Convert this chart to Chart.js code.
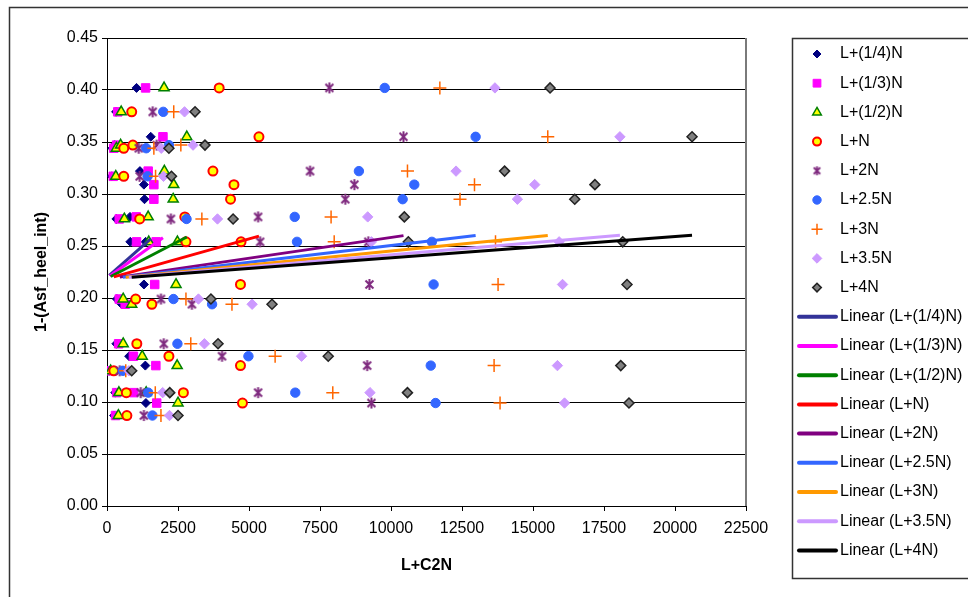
<!DOCTYPE html>
<html>
<head>
<meta charset="utf-8">
<script src="https://cdn.jsdelivr.net/npm/chart.js"></script>
<style>
  html, body { margin: 0; padding: 0; background: #fff; overflow: hidden; }
  #wrap { position: relative; width: 968px; height: 597px; }
</style>
</head>
<body>
<div id="wrap"><canvas id="chart" width="968" height="597"></canvas></div>
<script>
// one y level per measured row, shared by every series
var yValues = [0.402, 0.379, 0.355, 0.344, 0.347, 0.322, 0.317, 0.309, 0.295, 0.278, 0.276, 0.254,
               0.254, 0.213, 0.199, 0.194, 0.156, 0.144, 0.135, 0.130, 0.109, 0.109, 0.099, 0.087];

// L+C2N for each series, same row order as yValues
var xQuarterN = [1040, 320, 1540, 190, 270, 1160, 170, 1300, 1320, 810, 330, 820,
                 1360, 1300, 350, 520, 330, 780, 1350, 80, 290, 720, 1370, 250];
var xThirdN   = [1360, 380, 1970, 240, 340, 1450, 220, 1650, 1650, 1030, 430, 1040,
                 1730, 1680, 430, 640, 410, 930, 1720, 100, 340, 940, 1750, 300];
var xHalfN    = [2010, 500, 2810, 330, 480, 2020, 310, 2350, 2330, 1450, 610, 1470,
                 2480, 2430, 570, 870, 570, 1240, 2470, 130, 420, 1380, 2500, 400];
var xN        = [3950, 870, 5350, 590, 910, 3730, 590, 4470, 4350, 2740, 1150, 2780,
                 4720, 4700, 1010, 1580, 1050, 2180, 4700, 240, 680, 2690, 4770, 700];
var x2N       = [7830, 1610, 10440, 1120, 1750, 7150, 1150, 8710, 8390, 5320, 2250, 5390,
                 9200, 9240, 1900, 2990, 2000, 4050, 9160, 450, 1190, 5320, 9310, 1300];
var x25N      = [9780, 1980, 12980, 1380, 2180, 8870, 1430, 10820, 10410, 6610, 2800, 6690,
                 11440, 11500, 2340, 3700, 2480, 4980, 11400, 560, 1450, 6630, 11570, 1600];
var x3N       = [11720, 2350, 15520, 1650, 2600, 10580, 1710, 12940, 12430, 7890, 3340, 8000,
                 13680, 13770, 2780, 4400, 2950, 5920, 13630, 660, 1700, 7950, 13840, 1900];
var x35N      = [13660, 2730, 18060, 1910, 3030, 12290, 1990, 15060, 14450, 9180, 3890, 9310,
                 15920, 16040, 3220, 5110, 3430, 6850, 15860, 770, 1960, 9260, 16110, 2200];
var x4N       = [15600, 3100, 20600, 2180, 3450, 14000, 2270, 17180, 16470, 10470, 4440, 10610,
                 18160, 18310, 3660, 5810, 3910, 7790, 18090, 870, 2210, 10580, 18380, 2500];

var seriesNames = ['L+(1/4)N', 'L+(1/3)N', 'L+(1/2)N', 'L+N', 'L+2N', 'L+2.5N', 'L+3N', 'L+3.5N', 'L+4N'];
var seriesX = [xQuarterN, xThirdN, xHalfN, xN, x2N, x25N, x3N, x35N, x4N];

var yTicks = { min: 0, max: 0.45, step: 0.05 };
var xTicks = { min: 0, max: 22500, step: 2500 };

// Excel-like asterisk marker (x plus a vertical bar)
function makeStar(size, color, lw) {
  var c = document.createElement('canvas');
  c.width = size; c.height = size;
  var g = c.getContext('2d');
  var m = size / 2, r = size / 2 - 1, d = r * 0.72;
  g.strokeStyle = color; g.lineWidth = lw;
  g.beginPath();
  g.moveTo(m, m - r); g.lineTo(m, m + r);
  g.moveTo(m - d, m - d); g.lineTo(m + d, m + d);
  g.moveTo(m - d, m + d); g.lineTo(m + d, m - d);
  g.stroke();
  return c;
}

var markers = [
  { style: 'rectRot',  r: 4.5, fill: '#000080', line: '#000080', bw: 1,   lr: 4 },
  { style: 'rect',     r: 6,   fill: '#FF00FF', line: '#FF00FF', bw: 1,   lr: 5.5 },
  { style: 'triangle', r: 5.8, fill: '#FFFF00', line: '#008000', bw: 1.5, lr: 5 },
  { style: 'circle',   r: 4.5, fill: '#FFFF00', line: '#FF0000', bw: 2,   lr: 4 },
  { style: makeStar(13, '#7F2A7F', 2), r: 6, fill: '#7F2A7F', line: '#7F2A7F', bw: 1, lr: 5,
    legendStyle: makeStar(11, '#7F2A7F', 1.8) },
  { style: 'circle',   r: 4.7, fill: '#3366FF', line: '#3366FF', bw: 1,   lr: 4.2 },
  { style: 'cross',    r: 6.5, fill: '#FF6600', line: '#FF6600', bw: 1.5, lr: 5.5 },
  { style: 'rectRot',  r: 5.2, fill: '#CC99FF', line: '#CC99FF', bw: 1,   lr: 4.8 },
  { style: 'rectRot',  r: 5,   fill: '#808080', line: '#222222', bw: 1.5, lr: 4.3 }
];
var trendColors = ['#333399', '#FF00FF', '#008000', '#FF0000', '#800080', '#3366FF', '#FF9900', '#CC99FF', '#000000'];

function fitLine(xs, ys) {
  var n = xs.length, sx = 0, sy = 0, sxx = 0, sxy = 0;
  for (var i = 0; i < n; i++) {
    sx += xs[i]; sy += ys[i]; sxx += xs[i] * xs[i]; sxy += xs[i] * ys[i];
  }
  var b = (n * sxy - sx * sy) / (n * sxx - sx * sx);
  var a = (sy - b * sx) / n;
  var lo = Math.min.apply(null, xs), hi = Math.max.apply(null, xs);
  return [{ x: lo, y: a + b * lo }, { x: hi, y: a + b * hi }];
}

var datasets = [];
seriesX.forEach(function (xs, i) {
  var m = markers[i];
  datasets.push({
    label: seriesNames[i],
    data: xs.map(function (x, j) { return { x: x, y: yValues[j] }; }),
    showLine: false,
    pointStyle: m.style,
    pointRadius: m.r,
    pointBackgroundColor: m.fill,
    pointBorderColor: m.line,
    pointBorderWidth: m.bw,
    order: 20 - i
  });
});
seriesX.forEach(function (xs, i) {
  datasets.push({
    label: 'Linear (' + seriesNames[i] + ')',
    data: fitLine(xs, yValues),
    showLine: true,
    borderColor: trendColors[i],
    borderWidth: 3,
    pointRadius: 0,
    order: 9 - i
  });
});

// frame, plot border and the boxed legend
var decor = {
  id: 'decor',
  afterDraw: function (chart) {
    var ctx = chart.ctx, a = chart.chartArea;
    ctx.save();
    ctx.strokeStyle = '#7a7a7a';
    ctx.lineWidth = 2;
    ctx.beginPath();
    ctx.moveTo(a.right, a.top); ctx.lineTo(a.right, a.bottom);
    ctx.stroke();

    ctx.strokeStyle = '#333';
    ctx.lineWidth = 1.5;
    ctx.strokeRect(9.5, 7.5, 1000, 620);
    ctx.strokeRect(792.5, 38.5, 220, 540);

    var x0 = 817, y0 = 54, dy = 29.2;
    ctx.font = '16px "Liberation Sans", Arial, sans-serif';
    ctx.textBaseline = 'middle';
    ctx.textAlign = 'left';
    for (var i = 0; i < 18; i++) {
      var y = y0 + i * dy;
      if (i < 9) {
        var m = markers[i];
        ctx.fillStyle = m.fill; ctx.strokeStyle = m.line; ctx.lineWidth = m.bw;
        Chart.helpers.drawPoint(ctx, { pointStyle: m.legendStyle || m.style, radius: m.lr, borderWidth: m.bw, rotation: 0 }, x0, y);
      } else {
        ctx.strokeStyle = trendColors[i - 9]; ctx.lineWidth = 4; ctx.lineCap = 'round';
        ctx.beginPath(); ctx.moveTo(799, y); ctx.lineTo(836, y); ctx.stroke();
      }
      ctx.fillStyle = '#000';
      var txt = i < 9 ? seriesNames[i] : 'Linear (' + seriesNames[i - 9] + ')';
      ctx.fillText(txt, 840, y);
    }
    ctx.restore();
  }
};

Chart.defaults.font.family = '"Liberation Sans", Arial, sans-serif';
Chart.defaults.font.size = 16;
Chart.defaults.color = '#000';

new Chart(document.getElementById('chart').getContext('2d'), {
  type: 'scatter',
  data: { datasets: datasets },
  options: {
    responsive: false,
    animation: false,
    events: [],
    layout: { padding: { left: 24, right: 222, top: 38, bottom: 22 } },
    plugins: { legend: { display: false }, tooltip: { enabled: false } },
    scales: {
      x: {
        type: 'linear', min: xTicks.min, max: xTicks.max,
        afterFit: function (s) { s.height = 69; },
        border: { color: '#000', width: 1 },
        grid: { drawOnChartArea: false, color: '#000', tickLength: 5 },
        ticks: { stepSize: xTicks.step, autoSkip: false, maxRotation: 0, padding: 8,
                 callback: function (v) { return String(v); } },
        title: { display: true, text: 'L+C2N', font: { weight: 'bold', size: 16 }, padding: { top: 0, bottom: 0 } }
      },
      y: {
        type: 'linear', min: yTicks.min, max: yTicks.max,
        afterFit: function (s) { s.width = 83; },
        border: { color: '#000', width: 1 },
        grid: { color: '#000', lineWidth: 1, tickLength: 5 },
        ticks: { stepSize: yTicks.step, padding: 4, callback: function (v) { return v.toFixed(2); } },
        title: { display: true, text: '1-(Asf_heel_int)', font: { weight: 'bold', size: 16 }, padding: { top: 8, bottom: 0 } }
      }
    }
  },
  plugins: [decor]
});
</script>
</body>
</html>
